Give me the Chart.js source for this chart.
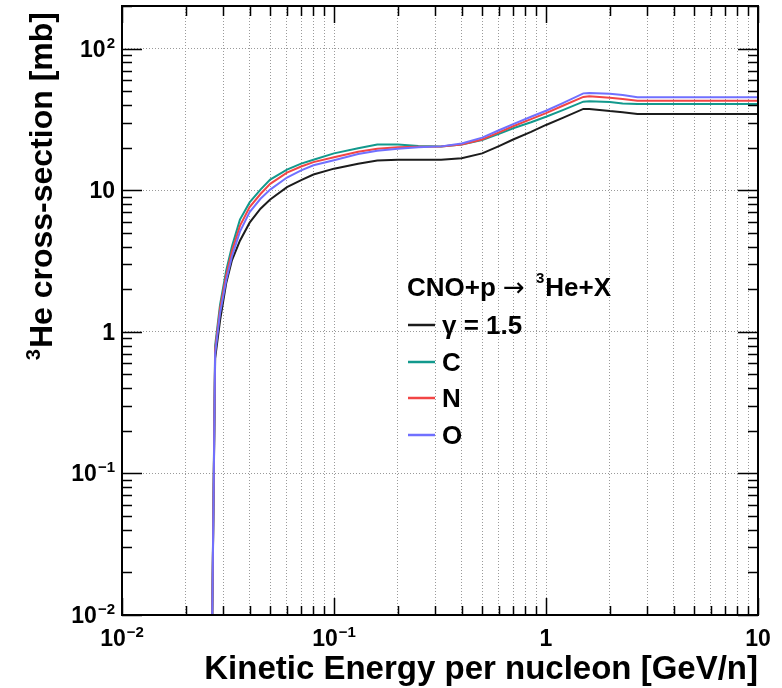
<!DOCTYPE html>
<html>
<head>
<meta charset="utf-8">
<script src="https://cdn.jsdelivr.net/npm/chart.js@4.4.1/dist/chart.umd.min.js"></script>
<style>
  html, body { margin: 0; padding: 0; background: #fff; }
  #wrap { width: 782px; height: 688px; }
</style>
</head>
<body>
<div id="wrap"><canvas id="chart-he3" width="782" height="688"></canvas></div>
<script>
// ---------------------------------------------------------------
// data
// ---------------------------------------------------------------
var energies = [0.0262, 0.0275, 0.029, 0.031, 0.033, 0.036, 0.04, 0.045, 0.05, 0.06, 0.07, 0.08, 0.1, 0.13, 0.16, 0.2, 0.25, 0.32, 0.4, 0.5, 0.6, 0.7, 0.85, 1.0, 1.2, 1.5, 1.6, 2.0, 2.3, 2.7, 10];
var xsGamma = [0.001, 0.65, 1.2, 2.2, 3.2, 4.4, 5.9, 7.4, 8.6, 10.5, 11.8, 12.9, 14.2, 15.4, 16.2, 16.4, 16.4, 16.4, 16.8, 18.2, 20.5, 22.8, 25.8, 28.9, 32.4, 37.5, 37.5, 36.2, 35.6, 34.5, 34.5];
var xsC = [0.001, 0.8, 1.55, 2.7, 4.0, 6.2, 8.2, 10.1, 11.9, 14.0, 15.4, 16.4, 18.2, 19.8, 21.0, 21.0, 20.5, 20.4, 21.0, 22.6, 25.0, 27.4, 30.2, 33.0, 36.8, 42.2, 42.5, 41.9, 41.0, 40.7, 40.7];
var xsN = [0.001, 0.75, 1.45, 2.5, 3.7, 5.6, 7.6, 9.4, 11.1, 13.3, 14.7, 15.8, 17.1, 18.7, 19.6, 20.1, 20.3, 20.4, 21.0, 22.8, 25.6, 28.3, 31.8, 35.0, 39.5, 45.6, 46.0, 45.0, 44.0, 42.9, 42.9];
var xsO = [0.001, 0.7, 1.35, 2.3, 3.4, 5.1, 7.0, 8.7, 10.1, 12.3, 13.8, 15.0, 16.3, 18.0, 19.0, 19.6, 20.1, 20.4, 21.4, 23.5, 26.5, 29.3, 33.0, 36.4, 41.2, 48.3, 48.6, 48.0, 47.0, 45.3, 45.3];

var seriesLabels = ['γ = 1.5', 'C', 'N', 'O'];
var seriesColors = ['#1c1c1c', '#12998d', '#f24545', '#7070ff'];

var xDecades = [0.01, 0.1, 1, 10];
var xDecadeLabels = [['10', '−2'], ['10', '−1'], ['1', ''], ['10', '']];
var yDecades = [0.01, 0.1, 1, 10, 100];
var yDecadeLabels = [['10', '−2'], ['10', '−1'], ['1', ''], ['10', ''], ['10', '2']];

var FONT = '"Liberation Sans", Arial, Helvetica, sans-serif';

// ---------------------------------------------------------------
// helpers
// ---------------------------------------------------------------
function toPoints(xs, ys) {
    return xs.map(function (x, i) { return { x: x, y: ys[i] }; });
}

// decade + 2..9 ticks between min and max
function logTicks(min, max) {
    var out = [];
    for (var e = Math.floor(Math.log10(min)); e <= Math.ceil(Math.log10(max)); e++) {
        for (var m = 1; m <= 9; m++) {
            var v = parseFloat((m * Math.pow(10, e)).toPrecision(6));
            if (v >= min * 0.999 && v <= max * 1.001) out.push({ value: v, major: m === 1 });
        }
    }
    return out;
}

function drawPower(ctx, base, exp, x, y, align) {
    ctx.font = 'bold 23px ' + FONT;
    var wb = ctx.measureText(base).width;
    ctx.font = 'bold 15px ' + FONT;
    var we = exp ? ctx.measureText(exp).width + 1 : 0;
    var x0 = align === 'center' ? x - (wb + we) / 2 : x - (wb + we);
    ctx.textAlign = 'left';
    ctx.textBaseline = 'alphabetic';
    ctx.font = 'bold 23px ' + FONT;
    ctx.fillText(base, x0, y);
    if (exp) {
        ctx.font = 'bold 15px ' + FONT;
        ctx.fillText(exp, x0 + wb + 1, y - 9);
    }
}

// frame, inside ticks, tick labels, titles, legend
var rootStylePlugin = {
    id: 'rootStyle',
    afterDraw: function (chart) {
        var ctx = chart.ctx;
        var a = chart.chartArea;
        var sx = chart.scales.x, sy = chart.scales.y;
        ctx.save();
        ctx.strokeStyle = '#000';
        ctx.fillStyle = '#000';

        // ticks
        ctx.lineWidth = 1.5;
        ctx.beginPath();
        sx.ticks.forEach(function (t) {
            var px = Math.round(sx.getPixelForValue(t.value)) + 0.5;
            var len = t.major ? 17 : 9;
            ctx.moveTo(px, a.bottom); ctx.lineTo(px, a.bottom - len);
            ctx.moveTo(px, a.top); ctx.lineTo(px, a.top + (t.major ? 17 : 10));
        });
        sy.ticks.forEach(function (t) {
            var py = Math.round(sy.getPixelForValue(t.value)) + 0.5;
            var len = t.major ? 20 : 10;
            ctx.moveTo(a.left, py); ctx.lineTo(a.left + len, py);
            ctx.moveTo(a.right, py); ctx.lineTo(a.right - len, py);
        });
        ctx.stroke();

        // frame
        ctx.lineWidth = 2;
        ctx.strokeRect(a.left, a.top, a.right - a.left, a.bottom - a.top);

        // tick labels
        xDecades.forEach(function (v, i) {
            drawPower(ctx, xDecadeLabels[i][0], xDecadeLabels[i][1], sx.getPixelForValue(v), 646, 'center');
        });
        yDecades.forEach(function (v, i) {
            drawPower(ctx, yDecadeLabels[i][0], yDecadeLabels[i][1], 115, sy.getPixelForValue(v) + 8, 'right');
        });

        // x title
        ctx.font = 'bold 33px ' + FONT;
        ctx.textAlign = 'right';
        ctx.fillText('Kinetic Energy per nucleon [GeV/n]', a.right, 679);

        // y title
        ctx.save();
        ctx.translate(52, 12);
        ctx.rotate(-Math.PI / 2);
        ctx.font = 'bold 32px ' + FONT;
        ctx.textAlign = 'right';
        var yTitle = 'He cross-section [mb]';
        var wt = ctx.measureText(yTitle).width;
        ctx.fillText(yTitle, 0, 0);
        ctx.font = 'bold 20px ' + FONT;
        ctx.fillText('3', -wt - 1, -12);
        ctx.restore();

        // legend header
        var lx = 407, ly = 296;
        ctx.textAlign = 'left';
        ctx.font = 'bold 26px ' + FONT;
        ctx.fillText('CNO+p', lx, ly);
        ctx.font = '26px "DejaVu Sans", ' + FONT;
        ctx.textAlign = 'center';
        ctx.fillText('→', 514, ly);
        ctx.textAlign = 'left';
        lx = 536;
        ctx.font = 'bold 15px ' + FONT;
        ctx.fillText('3', lx, ly - 13);
        lx += ctx.measureText('3').width + 1;
        ctx.font = 'bold 26px ' + FONT;
        ctx.fillText('He+X', lx, ly);

        // legend entries
        var rowY = [325, 362, 398, 435];
        chart.data.datasets.forEach(function (ds, i) {
            var y = rowY[i];
            ctx.strokeStyle = ds.borderColor;
            ctx.lineWidth = 2.5;
            ctx.beginPath();
            ctx.moveTo(408, y); ctx.lineTo(435, y);
            ctx.stroke();
            ctx.fillStyle = '#000';
            ctx.font = 'bold 26px ' + FONT;
            ctx.fillText(ds.label, 442, y + 9);
        });
        ctx.restore();
    }
};

// ---------------------------------------------------------------
// chart
// ---------------------------------------------------------------
var seriesValues = [xsGamma, xsC, xsN, xsO];
var datasets = seriesValues.map(function (vals, i) {
    return {
        label: seriesLabels[i],
        data: toPoints(energies, vals),
        borderColor: seriesColors[i],
        backgroundColor: seriesColors[i],
        borderWidth: 2,
        pointRadius: 0,
        tension: 0,
        fill: false,
        order: 4 - i
    };
});

new Chart(document.getElementById('chart-he3').getContext('2d'), {
    type: 'line',
    data: { datasets: datasets },
    options: {
        responsive: false,
        animation: false,
        devicePixelRatio: 1,
        layout: { padding: { left: 0, top: 6, right: 24, bottom: 0 } },
        plugins: { legend: { display: false }, tooltip: { enabled: false } },
        scales: {
            x: {
                type: 'logarithmic',
                min: 0.01,
                max: 10,
                afterBuildTicks: function (scale) { scale.ticks = logTicks(scale.min, scale.max); },
                afterFit: function (scale) { scale.height = 73; },
                ticks: { display: false },
                border: { display: false, dash: [1, 2] },
                grid: { color: '#9a9a9a', lineWidth: 1, drawTicks: false }
            },
            y: {
                type: 'logarithmic',
                min: 0.01,
                max: 200,
                afterBuildTicks: function (scale) { scale.ticks = logTicks(scale.min, scale.max); },
                afterFit: function (scale) { scale.width = 122; },
                ticks: { display: false },
                border: { display: false, dash: [1, 2] },
                grid: {
                    color: function (c) { return c.tick && c.tick.major ? '#9a9a9a' : 'rgba(0,0,0,0)'; },
                    lineWidth: 1,
                    drawTicks: false
                }
            }
        }
    },
    plugins: [rootStylePlugin]
});
</script>
</body>
</html>
